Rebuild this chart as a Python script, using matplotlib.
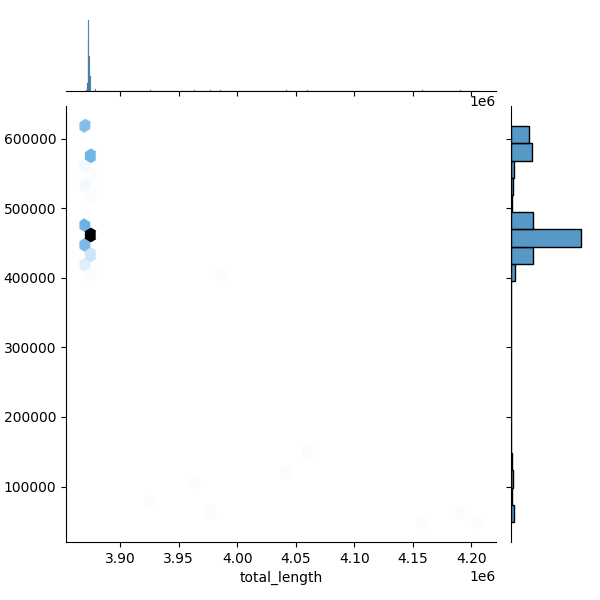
import numpy as np
import pandas as pd
import matplotlib
matplotlib.use("Agg")
import matplotlib.pyplot as plt
import seaborn as sns

grp_x = [3874300, 3874300, 3875200, 3871800, 3872600, 3870600, 3874300, 3879000,
         3872600, 3872600, 3873500, 3873500, 3872600, 3872600, 3874300, 3874500,
         3874500, 3879000,
         3926200, 3963300, 3977200, 3986500, 4042100, 4060600, 4158000, 4190400, 4204300]
grp_y = [618000, 614000, 578000, 576000, 560000, 548000, 533000, 516000,
         478000, 472000, 465000, 458000, 449000, 441000, 432000, 422000,
         415000, 405000,
         77500, 105900, 63200, 404600, 120100, 146000, 49000, 63200, 50000]
grp_n = [12, 8, 15, 8, 2, 1, 2, 1,
         12, 12, 35, 35, 8, 14, 8, 2,
         3, 1,
         1, 1, 1, 1, 1, 1, 1, 1, 1]

x = pd.Series(np.repeat(grp_x, grp_n), name="total_length")
y = np.repeat(grp_y, grp_n)

color = "C0"
color_rgb = matplotlib.colors.to_rgb(color)
colors = [sns.utils.set_hls_values(color_rgb, l=l) for l in np.linspace(1, 0, 12)]
cmap = sns.blend_palette(colors, as_cmap=True)

g = sns.JointGrid(x=x, y=y, height=6, ratio=5, space=.2)
g.plot_joint(plt.hexbin, gridsize=36, cmap=cmap)
sns.histplot(x=x, ax=g.ax_marg_x, color=color, bins=400)
sns.histplot(y=y, ax=g.ax_marg_y, bins=23, color=color)
g.set_axis_labels("total_length", "")

g.figure.subplots_adjust(left=0.11, right=0.975, bottom=0.097, top=0.973,
                         hspace=.2, wspace=.2)

g.figure.savefig("out.png", dpi=100)
